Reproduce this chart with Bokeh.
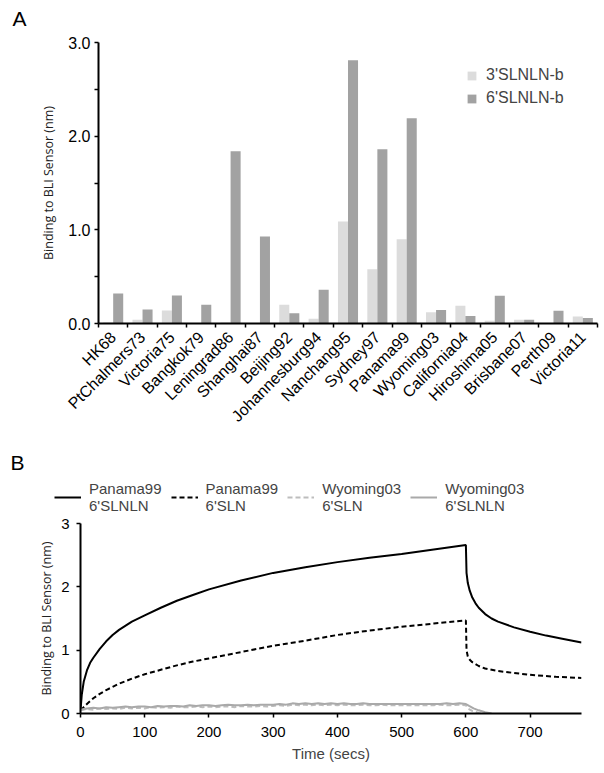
import math
from bokeh.plotting import figure
from bokeh.layouts import column
from bokeh.models import (Range1d, FixedTicker, Legend, LegendItem, Label,
                          PrintfTickFormatter)
from bokeh.embed import file_html
from bokeh.resources import INLINE

# ---------------- data: panel A ----------------
categories = ["HK68", "PtChalmers73", "Victoria75", "Bangkok79", "Leningrad86",
              "Shanghai87", "Beijing92", "Johannesburg94", "Nanchang95", "Sydney97",
              "Panama99", "Wyoming03", "California04", "Hiroshima05", "Brisbane07",
              "Perth09", "Victoria11"]
sl3_b = [0.01, 0.04, 0.14, 0.0, 0.01, 0.0, 0.20, 0.05, 1.09, 0.58,
         0.90, 0.12, 0.19, 0.03, 0.04, 0.0, 0.075]
sl6_b = [0.32, 0.15, 0.30, 0.20, 1.84, 0.93, 0.11, 0.36, 2.81, 1.86,
         2.19, 0.145, 0.08, 0.295, 0.04, 0.135, 0.06]
a_ticks = [0, 1, 2, 3]
a_minor = [0.5, 1.5, 2.5]

# ---------------- data: panel B ----------------
t_p99_sl6nln = [0, 2, 5, 10, 15, 20, 30, 40, 50, 60, 80, 100, 125, 150, 175, 200, 250,
                300, 350, 400, 450, 500, 550, 600, 601, 603, 606, 610, 615, 620, 630,
                640, 650, 675, 700, 725, 750, 780]
v_p99_sl6nln = [0.05, 0.30, 0.50, 0.68, 0.80, 0.88, 1.02, 1.14, 1.24, 1.32, 1.45, 1.55,
                1.67, 1.78, 1.87, 1.96, 2.10, 2.22, 2.31, 2.39, 2.46, 2.52, 2.59, 2.66,
                2.22, 2.06, 1.94, 1.83, 1.74, 1.67, 1.57, 1.50, 1.45, 1.36, 1.29, 1.23,
                1.18, 1.12]

t_p99_sl6n = [0, 5, 10, 20, 30, 40, 50, 60, 80, 100, 125, 150, 175, 200, 250, 300, 350,
              400, 450, 500, 550, 600, 601, 603, 606, 610, 620, 630, 650, 675, 700, 740, 780]
v_p99_sl6n = [0.05, 0.10, 0.15, 0.24, 0.31, 0.37, 0.42, 0.47, 0.55, 0.62, 0.69, 0.76,
              0.82, 0.87, 0.97, 1.07, 1.15, 1.24, 1.31, 1.37, 1.42, 1.47, 1.00, 0.90,
              0.85, 0.81, 0.75, 0.71, 0.67, 0.64, 0.61, 0.58, 0.56]

t_w03_sl6nln = [0, 10, 20, 30, 40, 50, 60, 70, 80, 90, 100, 110, 120, 130, 140, 150, 160,
                170, 180, 190, 200, 210, 220, 230, 240, 250, 260, 270, 280, 290, 300, 310,
                320, 330, 340, 350, 360, 370, 380, 390, 400, 410, 420, 430, 440, 450, 460,
                470, 480, 490, 500, 510, 520, 530, 540, 550, 560, 570, 580, 590, 600,
                605, 612, 620, 630, 640]
v_w03_sl6nln = [0.06, 0.08, 0.09, 0.08, 0.10, 0.09, 0.10, 0.11, 0.10, 0.11, 0.11, 0.10,
                0.12, 0.11, 0.12, 0.12, 0.11, 0.13, 0.12, 0.13, 0.13, 0.12, 0.13, 0.14,
                0.13, 0.13, 0.14, 0.13, 0.14, 0.14, 0.14, 0.15, 0.14, 0.16, 0.15, 0.16,
                0.15, 0.16, 0.15, 0.16, 0.15, 0.16, 0.15, 0.15, 0.16, 0.15, 0.15, 0.15,
                0.15, 0.15, 0.15, 0.15, 0.15, 0.15, 0.15, 0.15, 0.15, 0.16, 0.15, 0.16,
                0.15, 0.12, 0.08, 0.05, 0.02, 0.0]

t_w03_sl6n = [0, 10, 20, 30, 40, 50, 60, 70, 80, 90, 100, 110, 120, 130, 140, 150, 160,
              170, 180, 190, 200, 210, 220, 230, 240, 250, 260, 270, 280, 290, 300, 310,
              320, 330, 340, 350, 360, 370, 380, 390, 400, 410, 420, 430, 440, 450, 460,
              470, 480, 490, 500, 510, 520, 530, 540, 550, 560, 570, 580, 590, 600,
              603, 610, 620, 625]
v_w03_sl6n = [0.05, 0.07, 0.06, 0.08, 0.07, 0.08, 0.07, 0.09, 0.08, 0.09, 0.08, 0.10,
              0.09, 0.10, 0.09, 0.11, 0.10, 0.10, 0.11, 0.10, 0.11, 0.10, 0.11, 0.11,
              0.10, 0.12, 0.11, 0.11, 0.12, 0.11, 0.12, 0.13, 0.12, 0.14, 0.13, 0.14,
              0.13, 0.14, 0.13, 0.14, 0.13, 0.14, 0.13, 0.13, 0.14, 0.13, 0.13, 0.14,
              0.13, 0.13, 0.13, 0.13, 0.13, 0.13, 0.13, 0.13, 0.14, 0.13, 0.13, 0.14,
              0.13, 0.08, 0.04, 0.01, 0.0]
b_xticks = [0, 100, 200, 300, 400, 500, 600, 700]
b_yticks = [0, 1, 2, 3]
b_series_t = [t_p99_sl6nln, t_p99_sl6n, t_w03_sl6n, t_w03_sl6nln]
b_series_v = [v_p99_sl6nln, v_p99_sl6n, v_w03_sl6n, v_w03_sl6nln]
b_legend = ["Panama99\n6'SLNLN", "Panama99\n6'SLN", "Wyoming03\n6'SLN", "Wyoming03\n6'SLNLN"]

FONT = "Liberation Sans"
LBL_FONT = "Open Sans"


def strip_fig(height):
    f = figure(width=600, height=height, output_backend="svg", toolbar_location=None,
               title=None, frame_align=False, x_axis_location=None,
               y_axis_location=None, x_range=Range1d(0, 600),
               y_range=Range1d(0, height), min_border_left=0, min_border_right=0,
               min_border_top=0, min_border_bottom=0)
    f.outline_line_color = None
    f.grid.visible = False
    return f


# ---------------- panel letter A ----------------
pT = strip_fig(30)
pT.add_layout(Label(x=12, y=12, x_units="screen", y_units="screen", text="A",
                    text_font=FONT, text_font_size="21px", text_color="black",
                    text_baseline="alphabetic"))

# ---------------- panel A ----------------
n = len(categories)
pA = figure(width=600, height=410, output_backend="svg",
            toolbar_location=None, title=None, frame_align=False,
            x_range=Range1d(-0.5, n - 0.5), y_range=Range1d(0, 3.0),
            min_border_left=98, min_border_right=3, min_border_top=12,
            min_border_bottom=117)
pA.outline_line_color = None
pA.grid.visible = False

idx = list(range(n))
r3 = pA.vbar(x=[i - 0.171 for i in idx], top=sl3_b, width=0.342,
             fill_color="#dcdcdc", line_color=None)
r6 = pA.vbar(x=[i + 0.171 for i in idx], top=sl6_b, width=0.342,
             fill_color="#a2a2a2", line_color=None)

xa = pA.xaxis[0]
xa.ticker = FixedTicker(ticks=idx, minor_ticks=[i - 0.5 for i in range(n + 1)])
xa.major_label_overrides = {i: c for i, c in zip(idx, categories)}
xa.major_label_orientation = math.pi / 4
xa.major_tick_line_color = None
xa.major_tick_out = 0
xa.major_tick_in = 0
xa.minor_tick_line_color = "black"
xa.minor_tick_out = 4
xa.minor_tick_in = 0
xa.minor_tick_line_width = 1.5
xa.major_label_standoff = 7
xa.major_label_text_font = FONT
xa.major_label_text_font_size = "16px"
xa.major_label_text_color = "black"
xa.axis_line_width = 2
xa.axis_line_color = "black"

ya = pA.yaxis[0]
ya.ticker = FixedTicker(ticks=a_ticks, minor_ticks=a_minor)
ya.formatter = PrintfTickFormatter(format="%.1f")
ya.major_tick_out = 4
ya.major_tick_in = 0
ya.minor_tick_out = 4
ya.minor_tick_in = 0
ya.major_tick_line_width = 1.5
ya.minor_tick_line_width = 1.5
ya.major_label_standoff = 4
ya.major_label_text_font = FONT
ya.major_label_text_font_size = "16px"
ya.major_label_text_color = "black"
ya.axis_line_width = 2
ya.axis_label = "Binding to BLI Sensor (nm)"
ya.axis_label_text_font = LBL_FONT
ya.axis_label_text_font_size = "12.5px"
ya.axis_label_text_font_style = "normal"
ya.axis_label_text_color = "#222222"
ya.axis_label_standoff = 8

legA = Legend(items=[LegendItem(label="3'SLNLN-b", renderers=[r3]),
                     LegendItem(label="6'SLNLN-b", renderers=[r6])],
              location=(368, 216), glyph_width=11, glyph_height=11,
              label_standoff=9, label_height=18, spacing=5, padding=0, margin=0,
              border_line_color=None, background_fill_alpha=0,
              label_text_font=FONT, label_text_font_size="16px")
pA.add_layout(legA)

# ---------------- header of panel B (panel letter + legend) ----------------
styles = [dict(line_color="black", line_width=2),
          dict(line_color="black", line_width=2, line_dash="5 3"),
          dict(line_color="#bdbdbd", line_width=2, line_dash="5 3"),
          dict(line_color="#a9a9a9", line_width=2)]

pH = strip_fig(74)
# one-point proxies (draw nothing) that carry the line styles for the legend samples
h_rends = [pH.line(x=ts[:1], y=vs[:1], **st)
           for ts, vs, st in zip(b_series_t, b_series_v, styles)]
legB = Legend(items=[LegendItem(label=lab, renderers=[r])
                     for lab, r in zip(b_legend, h_rends)],
              orientation="horizontal", location=(54, 0),
              glyph_width=27, glyph_height=20, label_standoff=8, spacing=9,
              padding=0, margin=0, border_line_color=None, background_fill_alpha=0,
              label_text_font=FONT, label_text_font_size="15px",
              label_text_line_height=1.3)
pH.add_layout(legB)
pH.add_layout(Label(x=10, y=52, x_units="screen", y_units="screen", text="B",
                    text_font=FONT, text_font_size="21px", text_color="black",
                    text_baseline="alphabetic"))

# ---------------- panel B ----------------
pB = figure(width=600, height=256, output_backend="svg",
            toolbar_location=None, title=None, frame_align=False,
            x_range=Range1d(0, 780), y_range=Range1d(0, 3),
            min_border_left=80, min_border_right=19, min_border_top=9,
            min_border_bottom=57)
pB.outline_line_color = None
pB.grid.visible = False

for ts, vs, st in zip(b_series_t, b_series_v, styles):
    pB.line(ts, vs, **st)

for ax in (pB.xaxis[0], pB.yaxis[0]):
    ax.major_tick_out = 4
    ax.major_tick_in = 0
    ax.major_tick_line_width = 1.5
    ax.minor_tick_line_color = None
    ax.major_label_text_font = FONT
    ax.major_label_text_font_size = "15px"
    ax.major_label_text_color = "black"
    ax.axis_line_width = 2
    ax.axis_label_text_font_style = "normal"
pB.xaxis[0].ticker = FixedTicker(ticks=b_xticks)
pB.yaxis[0].ticker = FixedTicker(ticks=b_yticks)
pB.xaxis[0].major_label_standoff = 9
pB.yaxis[0].major_label_standoff = 7
pB.xaxis[0].axis_label = "Time (secs)"
pB.xaxis[0].axis_label_text_font = FONT
pB.xaxis[0].axis_label_text_font_size = "15px"
pB.xaxis[0].axis_label_standoff = 5
pB.yaxis[0].axis_label = "Binding to BLI Sensor (nm)"
pB.yaxis[0].axis_label_text_font = LBL_FONT
pB.yaxis[0].axis_label_text_font_size = "12.5px"
pB.yaxis[0].axis_label_text_color = "#222222"
pB.yaxis[0].axis_label_standoff = 3

layout = column(pT, pA, pH, pB, spacing=0)
open("out.html", "w").write(file_html(layout, INLINE))
